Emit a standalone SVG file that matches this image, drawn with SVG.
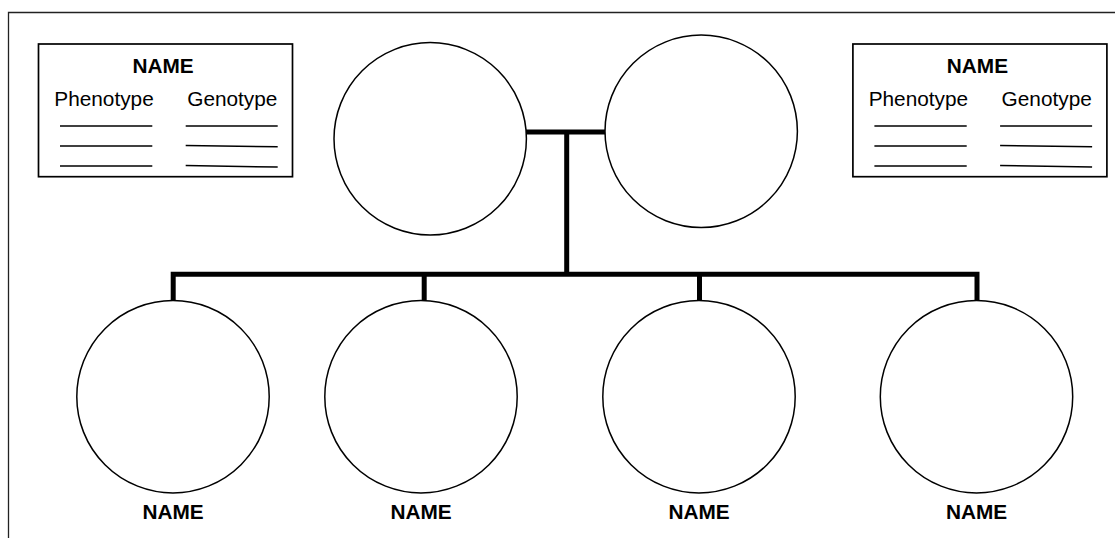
<svg xmlns="http://www.w3.org/2000/svg" width="1115" height="538" viewBox="0 0 1115 538">
<defs>
<style>
.frame{fill:none;stroke:#222;stroke-width:1.3}
.box{fill:#fff;stroke:#000;stroke-width:1.7}
.rule{stroke:#000;stroke-width:1.5}
.person{fill:#fff;stroke:#000;stroke-width:1.5}
.conn{fill:none;stroke:#000;stroke-width:5;stroke-linejoin:miter;stroke-linecap:butt}
.t{font-family:"Liberation Sans",Arial,sans-serif;font-size:20.8px;fill:#000;text-anchor:middle}
.b{font-weight:bold}
</style>
<g id="card">
<rect class="box" x="38.5" y="44" width="254" height="132.7"/>
<text class="t b" x="163" y="72.7">NAME</text>
<text class="t" x="104" y="106">Phenotype</text>
<text class="t" x="232.3" y="106">Genotype</text>
<line class="rule" x1="60" y1="126" x2="152.3" y2="126"/>
<line class="rule" x1="60" y1="146" x2="152.3" y2="146"/>
<line class="rule" x1="60" y1="166" x2="152.3" y2="166"/>
<line class="rule" x1="185.7" y1="126" x2="277.7" y2="126"/>
<line class="rule" x1="185.7" y1="145.6" x2="277.7" y2="146.7"/>
<line class="rule" x1="185.7" y1="165.6" x2="277.7" y2="167"/>
</g>
</defs>
<rect width="1115" height="538" fill="#fff"/>
<path class="frame" d="M8.5,538 V12.5 H1115"/>
<g id="connectors">
<path class="conn" d="M526,132 H605"/>
<path class="conn" d="M566.7,132 V274.2"/>
<path class="conn" d="M173.2,300.7 V274.2 H977 V300.7"/>
<path class="conn" d="M424.2,274.2 V300.7"/>
<path class="conn" d="M699.5,274.2 V300.7"/>
</g>
<g id="card-left"><use href="#card"/></g>
<g id="card-right"><use href="#card" transform="translate(814.4,0)"/></g>
<g id="parent-left"><circle class="person" cx="430.2" cy="138.8" r="96.2"/></g>
<g id="parent-right"><circle class="person" cx="701.2" cy="131.3" r="96.2"/></g>
<g id="child-1"><circle class="person" cx="173" cy="396.7" r="96.2"/><text class="t b" x="173" y="519.3">NAME</text></g>
<g id="child-2"><circle class="person" cx="421" cy="396.7" r="96.2"/><text class="t b" x="421" y="519.3">NAME</text></g>
<g id="child-3"><circle class="person" cx="699" cy="396.7" r="96.2"/><text class="t b" x="699" y="519.3">NAME</text></g>
<g id="child-4"><circle class="person" cx="976.5" cy="396.7" r="96.2"/><text class="t b" x="976.5" y="519.3">NAME</text></g>
</svg>
